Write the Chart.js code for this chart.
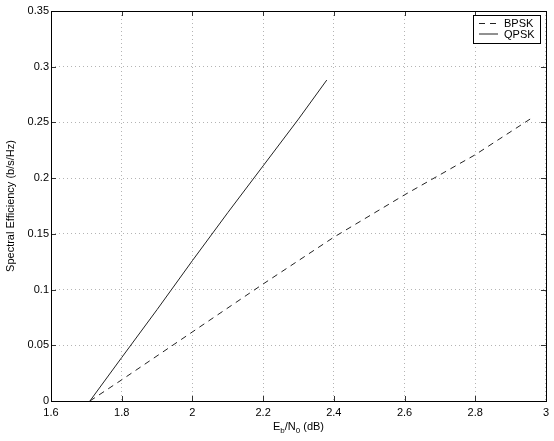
<!DOCTYPE html>
<html>
<head>
<meta charset="utf-8">
<script src="https://cdn.jsdelivr.net/npm/chart.js@4.4.1/dist/chart.umd.min.js"></script>
<style>
html,body{margin:0;padding:0;background:#fff;}
#c{display:block;}
</style>
</head>
<body>
<canvas id="c" width="554" height="441"></canvas>
<script>
// Data
const seriesNames = ["BPSK", "QPSK"];
const bpskX = [1.71, 1.8, 2.0, 2.2, 2.4, 2.6, 2.8, 2.96];
const bpskY = [0, 0.019, 0.062, 0.105, 0.147, 0.185, 0.221, 0.254];
const qpskX = [1.71, 1.8, 1.9, 2.0, 2.1, 2.2, 2.3, 2.38];
const qpskY = [0, 0.039, 0.082, 0.126, 0.169, 0.211, 0.253, 0.288];
const xTicks = [1.6, 1.8, 2, 2.2, 2.4, 2.6, 2.8, 3];
const yTicks = [0, 0.05, 0.1, 0.15, 0.2, 0.25, 0.3, 0.35];
const yTitle = "Spectral Efficiency (b/s/Hz)";
const xTitleParts = [["E", false], ["b", true], ["/N", false], ["0", true], [" (dB)", false]];

const FONT = "'Liberation Sans', Arial, Helvetica, sans-serif";
const toPts = (xs, ys) => xs.map((x, i) => ({x: x, y: ys[i]}));

const framePlugin = {
  id: 'frame',
  afterDraw(chart) {
    const ctx = chart.ctx;
    const a = chart.chartArea;
    const xs = chart.scales.x, ys = chart.scales.y;
    ctx.save();
    // ticks (inward on all four sides)
    ctx.strokeStyle = '#333';
    ctx.lineWidth = 1;
    ctx.beginPath();
    xTicks.forEach(v => {
      const px = Math.round(xs.getPixelForValue(v)) + 0.5;
      ctx.moveTo(px, a.bottom); ctx.lineTo(px, a.bottom - 5);
      ctx.moveTo(px, a.top); ctx.lineTo(px, a.top + 5);
    });
    yTicks.forEach(v => {
      const py = Math.round(ys.getPixelForValue(v)) + 0.5;
      ctx.moveTo(a.left, py); ctx.lineTo(a.left + 5, py);
      ctx.moveTo(a.right, py); ctx.lineTo(a.right - 5, py);
    });
    ctx.stroke();
    // frame
    ctx.strokeStyle = '#000';
    ctx.strokeRect(Math.round(a.left) + 0.5, Math.round(a.top) + 0.5,
                   Math.round(a.right - a.left), Math.round(a.bottom - a.top));
    // legend box
    const lx = 473.5, ly = 15.5, lw = 67, lh = 28;
    ctx.fillStyle = '#fff';
    ctx.fillRect(lx, ly, lw, lh);
    ctx.strokeStyle = '#000';
    ctx.strokeRect(lx, ly, lw, lh);
    chart.data.datasets.forEach((ds, i) => {
      const cy = ly + 8 + i * 10.5;
      ctx.beginPath();
      ctx.strokeStyle = ds.borderColor;
      ctx.setLineDash(ds.borderDash || []);
      ctx.moveTo(479, cy); ctx.lineTo(498, cy);
      ctx.stroke();
      ctx.setLineDash([]);
      ctx.fillStyle = '#000';
      ctx.font = '11px ' + FONT;
      ctx.textBaseline = 'middle';
      ctx.textAlign = 'left';
      ctx.fillText(ds.label, 504, cy + 0.5);
    });
    // x title with subscripts
    const big = '11px ' + FONT, small = '8px ' + FONT;
    let total = 0;
    xTitleParts.forEach(([t, sub]) => { ctx.font = sub ? small : big; total += ctx.measureText(t).width; });
    let x = (a.left + a.right) / 2 - total / 2;
    const base = 430;
    ctx.textBaseline = 'alphabetic';
    ctx.fillStyle = '#000';
    xTitleParts.forEach(([t, sub]) => {
      ctx.font = sub ? small : big;
      ctx.fillText(t, x, sub ? base + 3 : base);
      x += ctx.measureText(t).width;
    });
    ctx.restore();
  }
};

new Chart(document.getElementById('c'), {
  type: 'scatter',
  data: {
    datasets: [
      {label: seriesNames[0], data: toPts(bpskX, bpskY), showLine: true, borderColor: '#222', borderWidth: 1,
       borderDash: [6, 5], pointRadius: 0, fill: false, tension: 0},
      {label: seriesNames[1], data: toPts(qpskX, qpskY), showLine: true, borderColor: '#222', borderWidth: 1,
       pointRadius: 0, fill: false, tension: 0}
    ]
  },
  options: {
    responsive: false,
    animation: false,
    devicePixelRatio: 1,
    layout: {padding: {left: 0, right: 8, top: 11, bottom: 0}},
    plugins: {legend: {display: false}, tooltip: {enabled: false}},
    scales: {
      x: {
        type: 'linear', min: 1.6, max: 3,
        afterFit(s) { s.height = 40; },
        afterBuildTicks(s) { s.ticks = xTicks.map(v => ({value: v})); },
        grid: {color: '#b4b4b4', lineWidth: 1, drawTicks: false},
        border: {display: false, dash: [1, 3]},
        ticks: {color: '#000', font: {family: FONT, size: 11}, padding: 5, maxRotation: 0,
                callback: v => String(+(+v).toFixed(1))}
      },
      y: {
        type: 'linear', min: 0, max: 0.35,
        afterFit(s) { s.width = 51; },
        afterBuildTicks(s) { s.ticks = yTicks.map(v => ({value: v})); },
        grid: {color: '#b4b4b4', lineWidth: 1, drawTicks: false},
        border: {display: false, dash: [1, 3]},
        ticks: {color: '#000', font: {family: FONT, size: 11}, padding: 2,
                callback: v => String(+(+v).toFixed(2))},
        title: {display: true, text: yTitle, color: '#000', font: {family: FONT, size: 11}, padding: {top: 4, bottom: 4}}
      }
    }
  },
  plugins: [framePlugin]
});
</script>
</body>
</html>
